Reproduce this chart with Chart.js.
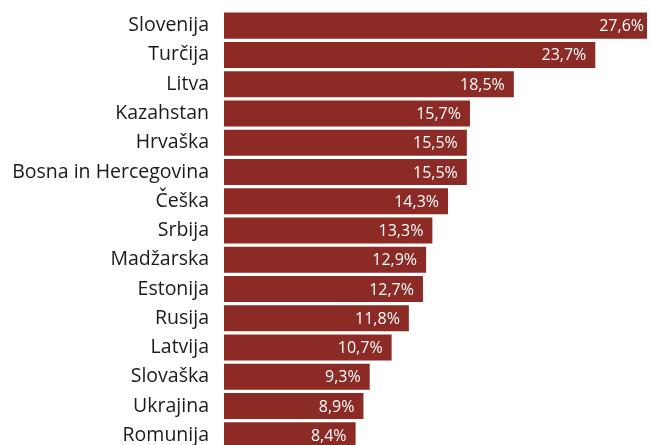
<!DOCTYPE html>
<html>
<head>
<meta charset="utf-8">
<script src="https://cdn.jsdelivr.net/npm/chart.js@4"></script>
<style>
  html, body { margin: 0; padding: 0; background: #fff; overflow: hidden; }
</style>
</head>
<body>
<canvas id="chart" width="651" height="452"></canvas>

<script>
    const countries = [
        "Slovenija", "Turčija", "Litva", "Kazahstan", "Hrvaška",
        "Bosna in Hercegovina", "Češka", "Srbija", "Madžarska", "Estonija",
        "Rusija", "Latvija", "Slovaška", "Ukrajina", "Romunija"
    ];
    const shares = [27.6, 23.7, 18.5, 15.7, 15.5, 15.5, 14.3, 13.3, 12.9, 12.7, 11.8, 10.7, 9.3, 8.9, 8.4];

    const barColor = "#8c2b25";
    const fontFamily = "'Open Sans', sans-serif";

    // writes the value at the right end of each bar, in white
    const valueLabels = {
        id: 'valueLabels',
        afterDatasetsDraw(chart) {
            const ctx = chart.ctx;
            const area = chart.chartArea;
            const meta = chart.getDatasetMeta(0);
            ctx.save();
            ctx.fillStyle = "#ffffff";
            ctx.font = "16px " + fontFamily;
            ctx.textAlign = "right";
            ctx.textBaseline = "middle";
            meta.data.forEach(function (bar, i) {
                let x = bar.x - 9;
                // the first bar runs past the axis, keep its label inside
                if (bar.x > area.right) {
                    x = area.right - 3;
                }
                let txt = shares[i].toFixed(1).replace(".", ",") + "%";
                ctx.fillText(txt, x, bar.y + 1);
            });
            ctx.restore();
        }
    };

    new Chart(document.getElementById("chart"), {
        type: 'bar',
        data: {
            labels: countries,
            datasets: [{
                data: shares,
                backgroundColor: barColor,
                borderWidth: 0,
                barPercentage: 0.89,
                categoryPercentage: 1.0
            }]
        },
        options: {
            indexAxis: 'y',
            responsive: false,
            animation: false,
            layout: {
                padding: { top: 11, bottom: 2, left: 0, right: 4 }
            },
            scales: {
                x: {
                    display: false,
                    min: 0,
                    max: 27
                },
                y: {
                    grid: { display: false },
                    border: { display: false },
                    afterFit: function (scale) {
                        scale.width = 224;
                        scale.paddingTop = 0;
                        scale.paddingBottom = 0;
                    },
                    ticks: {
                        padding: 7,
                        color: "#1a1a1a",
                        font: { family: fontFamily, size: 19.5 },
                        autoSkip: false
                    }
                }
            },
            plugins: {
                legend: { display: false },
                tooltip: { enabled: false }
            }
        },
        plugins: [valueLabels]
    });
</script>
</body>
</html>
